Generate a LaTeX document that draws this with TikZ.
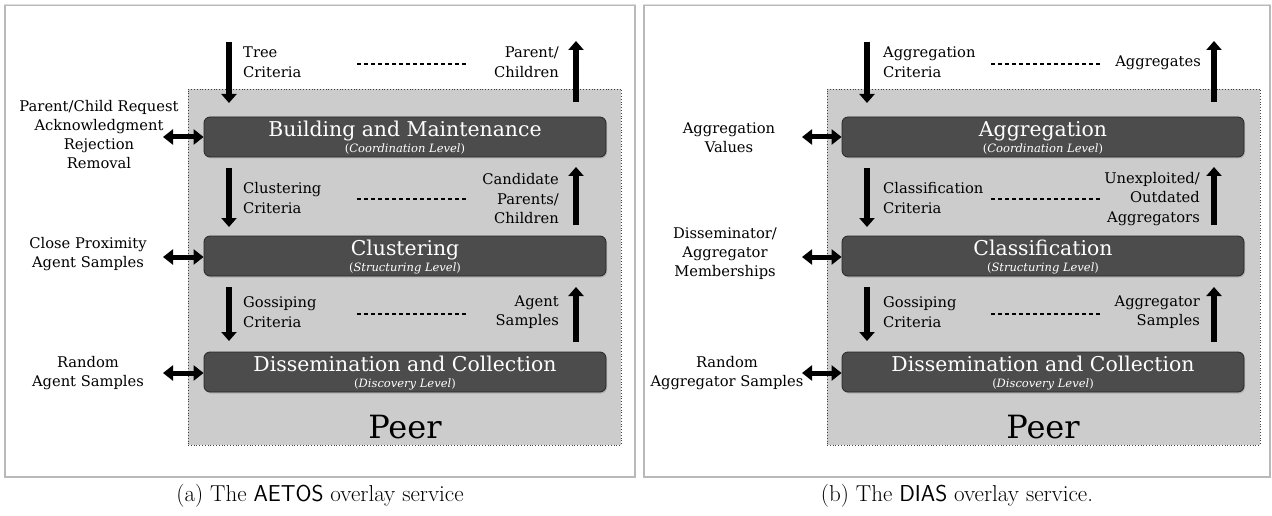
\documentclass[tikz,border=0pt]{standalone}
\usepackage{fontspec}
\newfontfamily\figfont{DejaVu Serif}
\usetikzlibrary{arrows.meta,shadows}
\begin{document}
\begin{tikzpicture}[x=1pt,y=-1pt,
  frame/.style={draw=gray!55, line width=1.2pt, fill=white, inner sep=0pt},
  peerbox/.style={draw=black!75, dotted, line width=0.8pt, fill=black!20, inner sep=0pt,
    minimum width=433pt, minimum height=356pt},
  layer/.style={draw=black!85, line width=0.8pt, fill=black!70, rounded corners=6pt,
    minimum width=402pt, minimum height=40pt, inner sep=0pt,
    drop shadow={shadow xshift=1pt, shadow yshift=-1.5pt, opacity=0.35}},
  ltitle/.style={text=white, font=\figfont\fontsize{20.4}{24}\selectfont, anchor=base, inner sep=0pt},
  lsub/.style={text=white, font=\figfont\fontsize{11.5}{13}\selectfont, anchor=base, inner sep=0pt},
  lbl/.style={font=\figfont\fontsize{14.7}{19.5}\selectfont, inner sep=0pt},
  sidelbl/.style={font=\figfont\fontsize{14.7}{19}\selectfont, inner sep=0pt, align=center},
  peertext/.style={font=\figfont\fontsize{32}{38}\selectfont, inner sep=0pt},
  flow/.style={line width=6.5pt, -{Triangle[width=15pt,length=9pt]}},
  xchg/.style={line width=5pt, {Triangle[width=15pt,length=10pt]}-{Triangle[width=15pt,length=10pt]}},
  pairline/.style={line width=2pt, dash pattern=on 4pt off 3pt},
  captext/.style={font=\fontsize{23}{27}\selectfont, inner sep=0pt}]
\useasboundingbox (0,0) rectangle (1272,516);

% ---------------- outer frames ----------------
\node[frame, minimum width=630pt, minimum height=472pt] (frameA) at (320,241) {};
\draw[gray!25, line width=1.2pt] (frameA.north west) -- (frameA.north east);
\node[frame, minimum width=626pt, minimum height=472pt] (frameB) at (957,241) {};
\draw[gray!25, line width=1.2pt] (frameB.north west) -- (frameB.north east);

% ================= AETOS =================
\node[peerbox] (peerA) at (404.5,267) {};
\node[peertext] (peerlblA) at (405,427) {Peer};

\node[layer] (bmA) at (405,137) {};
\node[ltitle] (bmAt) at (405,136.5) {Building and Maintenance};
\node[lsub] (bmAs) at (405,152.5) {(\textit{Coordination Level})};
\node[layer] (clA) at (405,256) {};
\node[ltitle] (clAt) at (405,255.5) {Clustering};
\node[lsub] (clAs) at (405,271.5) {(\textit{Structuring Level})};
\node[layer] (dcA) at (405,372) {};
\node[ltitle] (dcAt) at (405,371.5) {Dissemination and Collection};
\node[lsub] (dcAs) at (405,387.5) {(\textit{Discovery Level})};

% vertical flows
\coordinate (dA1s) at (229,42);  \coordinate (dA1e) at (229,103);
\coordinate (dA2s) at (229,168); \coordinate (dA2e) at (229,227);
\coordinate (dA3s) at (229,287); \coordinate (dA3e) at (229,341);
\coordinate (uA1s) at (576,102); \coordinate (uA1e) at (576,41);
\coordinate (uA2s) at (576,225); \coordinate (uA2e) at (576,167);
\coordinate (uA3s) at (576,342); \coordinate (uA3e) at (576,287);
\draw[flow] (dA1s) -- (dA1e);
\draw[flow] (dA2s) -- (dA2e);
\draw[flow] (dA3s) -- (dA3e);
\draw[flow] (uA1s) -- (uA1e);
\draw[flow] (uA2s) -- (uA2e);
\draw[flow] (uA3s) -- (uA3e);

% flow labels
\node[lbl, anchor=west, align=left] (inA1) at (243,62) {Tree\\Criteria};
\node[lbl, anchor=east, align=right] (outA1) at (559,62) {Parent/\\Children};
\node[lbl, anchor=west, align=left] (inA2) at (243,198) {Clustering\\Criteria};
\node[lbl, anchor=east, align=right] (outA2) at (559,199) {Candidate\\Parents/\\Children};
\node[lbl, anchor=west, align=left] (inA3) at (243,312) {Gossiping\\Criteria};
\node[lbl, anchor=east, align=right] (outA3) at (559,312) {Agent\\Samples};

\coordinate (pA1s) at (357,64);  \coordinate (pA1e) at (467,64);
\coordinate (pA2s) at (357,199); \coordinate (pA2e) at (467,199);
\coordinate (pA3s) at (357,314); \coordinate (pA3e) at (467,314);
\draw[pairline] (pA1s) -- (pA1e);
\draw[pairline] (pA2s) -- (pA2e);
\draw[pairline] (pA3s) -- (pA3e);

% exchanges with other peers
\node[sidelbl] (sideA1) at (99,135) {Parent/Child Request\\Acknowledgment\\Rejection\\Removal};
\node[sidelbl] (sideA2) at (88,254) {Close Proximity\\Agent Samples};
\node[sidelbl] (sideA3) at (88,373) {Random\\Agent Samples};
\coordinate (xA1) at (163,137); \coordinate (xA2) at (163,257); \coordinate (xA3) at (163,373);
\draw[xchg] (xA1) -- (bmA.west |- xA1);
\draw[xchg] (xA2) -- (clA.west |- xA2);
\draw[xchg] (xA3) -- (dcA.west |- xA3);

% ================= DIAS =================
\node[peerbox] (peerB) at (1043.5,267) {};
\node[peertext] (peerlblB) at (1043,427) {Peer};

\node[layer] (agB) at (1043,137) {};
\node[ltitle] (agBt) at (1043,136.5) {Aggregation};
\node[lsub] (agBs) at (1043,152.5) {(\textit{Coordination Level})};
\node[layer] (csB) at (1043,256) {};
\node[ltitle] (csBt) at (1043,255.5) {Classification};
\node[lsub] (csBs) at (1043,271.5) {(\textit{Structuring Level})};
\node[layer] (dcB) at (1043,372) {};
\node[ltitle] (dcBt) at (1043,371.5) {Dissemination and Collection};
\node[lsub] (dcBs) at (1043,387.5) {(\textit{Discovery Level})};

\coordinate (dB1s) at (867,42);  \coordinate (dB1e) at (867,103);
\coordinate (dB2s) at (867,168); \coordinate (dB2e) at (867,227);
\coordinate (dB3s) at (867,287); \coordinate (dB3e) at (867,341);
\coordinate (uB1s) at (1214,102); \coordinate (uB1e) at (1214,41);
\coordinate (uB2s) at (1214,225); \coordinate (uB2e) at (1214,167);
\coordinate (uB3s) at (1214,342); \coordinate (uB3e) at (1214,287);
\draw[flow] (dB1s) -- (dB1e);
\draw[flow] (dB2s) -- (dB2e);
\draw[flow] (dB3s) -- (dB3e);
\draw[flow] (uB1s) -- (uB1e);
\draw[flow] (uB2s) -- (uB2e);
\draw[flow] (uB3s) -- (uB3e);

\node[lbl, anchor=west, align=left] (inB1) at (883,62) {Aggregation\\Criteria};
\node[lbl, anchor=east, align=right] (outB1) at (1201,63) {Aggregates};
\node[lbl, anchor=west, align=left] (inB2) at (883,198) {Classification\\Criteria};
\node[lbl, anchor=east, align=right] (outB2) at (1200,199) {Unexploited/\\Outdated\\Aggregators};
\node[lbl, anchor=west, align=left] (inB3) at (883,312) {Gossiping\\Criteria};
\node[lbl, anchor=east, align=right] (outB3) at (1200,312) {Aggregator\\Samples};

\coordinate (pB1s) at (991,64);  \coordinate (pB1e) at (1102,64);
\coordinate (pB2s) at (991,199); \coordinate (pB2e) at (1102,199);
\coordinate (pB3s) at (991,314); \coordinate (pB3e) at (1102,314);
\draw[pairline] (pB1s) -- (pB1e);
\draw[pairline] (pB2s) -- (pB2e);
\draw[pairline] (pB3s) -- (pB3e);

\node[sidelbl] (sideB1) at (729,137.5) {Aggregation\\Values};
\node[sidelbl] (sideB2) at (725,254) {Disseminator/\\Aggregator\\Memberships};
\node[sidelbl] (sideB3) at (727,373) {Random\\Aggregator Samples};
\coordinate (xB1) at (802,137); \coordinate (xB2) at (802,257); \coordinate (xB3) at (802,373);
\draw[xchg] (xB1) -- (agB.west |- xB1);
\draw[xchg] (xB2) -- (csB.west |- xB2);
\draw[xchg] (xB3) -- (dcB.west |- xB3);

% ---------------- captions ----------------
\node[captext] (capA) at (320,496) {(a) The \textsf{AETOS} overlay service};
\node[captext] (capB) at (957,496) {(b) The \textsf{DIAS} overlay service.};
\end{tikzpicture}
\end{document}
